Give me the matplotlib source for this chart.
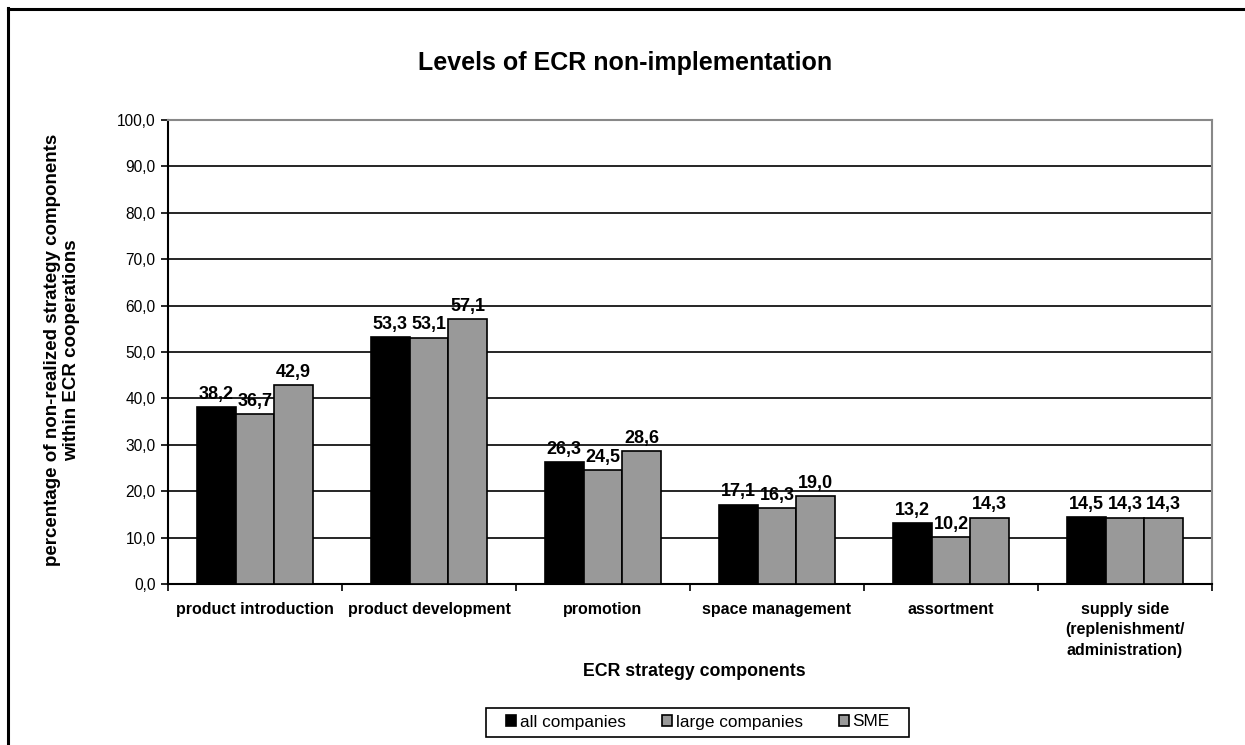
import matplotlib
matplotlib.use("Agg")
import matplotlib.pyplot as plt
from matplotlib.lines import Line2D
from matplotlib.patches import Patch, Rectangle
import numpy as np

plt.rcParams['font.family'] = ['Liberation Sans', 'DejaVu Sans']

categories = ["product introduction", "product development", "promotion",
              "space management", "assortment",
              "supply side\n(replenishment/\nadministration)"]
series_names = ["all companies", "large companies", "SME"]
all_companies = [38.2, 53.3, 26.3, 17.1, 13.2, 14.5]
large_companies = [36.7, 53.1, 24.5, 16.3, 10.2, 14.3]
sme = [42.9, 57.1, 28.6, 19.0, 14.3, 14.3]
y_ticks = [0, 10, 20, 30, 40, 50, 60, 70, 80, 90, 100]

colors = ["#000000", "#999999", "#999999"]

W, H = 1245, 745
fig = plt.figure(figsize=(W / 100, H / 100), dpi=100)
ax = fig.add_axes([168 / W, 1 - 584 / H, (1212 - 168) / W, (584 - 120) / H])

x = np.arange(len(categories))
bar_w = 1 / 4.5
for i, (vals, col) in enumerate(zip([all_companies, large_companies, sme], colors)):
    pos = x + (i - 1) * bar_w
    bars = ax.bar(pos, vals, width=bar_w, color=col, edgecolor="black",
                  linewidth=1.2, zorder=3)
    for b, v in zip(bars, vals):
        ax.annotate(f"{v:.1f}".replace(".", ","),
                    (b.get_x() + b.get_width() / 2, v),
                    xytext=(0, 3), textcoords="offset points",
                    ha="center", va="bottom", fontsize=13, fontweight="bold")

ax.set_xlim(-0.5, len(categories) - 0.5)
ax.set_ylim(0, 100)
ax.set_yticks(y_ticks)
ax.set_yticklabels([f"{t:.1f}".replace(".", ",") for t in y_ticks], fontsize=11.2)
ax.yaxis.grid(True, color="black", linewidth=1.2, zorder=0)
ax.set_axisbelow(True)

# category boundaries carry the tick marks, labels sit under the group centres
ax.set_xticks(np.arange(len(categories) + 1) - 0.5)
ax.set_xticklabels([])
ax.set_xticks(x, minor=True)
ax.set_xticklabels(categories, minor=True, fontsize=11.5, fontweight="bold",
                   linespacing=1.45)
ax.tick_params(axis="x", which="minor", length=0, pad=13)
ax.tick_params(axis="x", which="major", length=5, width=1.2, direction="out")
ax.tick_params(axis="y", length=5, width=1.2, direction="out", pad=4)

ax.spines["left"].set_linewidth(1.5)
ax.spines["bottom"].set_linewidth(1.5)
ax.spines["top"].set_color("#888888")
ax.spines["right"].set_color("#888888")
ax.spines["top"].set_linewidth(1.5)
ax.spines["right"].set_linewidth(1.5)

fig.text(625 / W, 1 - 63 / H, "Levels of ECR non-implementation",
         ha="center", va="center", fontsize=18, fontweight="bold")
fig.text(62 / W, 1 - 350 / H,
         "percentage of non-realized strategy components\nwithin ECR cooperations",
         ha="center", va="center", rotation=90, fontsize=13.5,
         fontweight="bold", multialignment="center", linespacing=1.1)
fig.text(694 / W, 1 - 671 / H, "ECR strategy components",
         ha="center", va="center", fontsize=12.8, fontweight="bold")

handles = [Patch(facecolor=c, edgecolor="black", linewidth=1.2) for c in colors]
leg = fig.legend(handles, series_names, loc="center",
                 bbox_to_anchor=(698 / W, 1 - 722 / H), ncol=3, fontsize=12.4,
                 frameon=False, handlelength=0.6,
                 handleheight=0.6, handletextpad=0.2, columnspacing=2.1,
                 borderpad=0.3, borderaxespad=0)
# legend box drawn separately so it can be wider than tall padding allows
fig.add_artist(Rectangle((486 / W, 1 - 737 / H), (909 - 486) / W, (737 - 708) / H,
                         transform=fig.transFigure, facecolor="none",
                         edgecolor="black", linewidth=1.2))

# outer frame, clipped at right and bottom
fig.add_artist(Line2D([7.5 / W, 7.5 / W], [0, 1 - 7.5 / H], color="black",
                      linewidth=2.2, transform=fig.transFigure))
fig.add_artist(Line2D([7.5 / W, 1], [1 - 8.5 / H, 1 - 8.5 / H], color="black",
                      linewidth=2.2, transform=fig.transFigure))

fig.savefig("out.png", dpi=100)
